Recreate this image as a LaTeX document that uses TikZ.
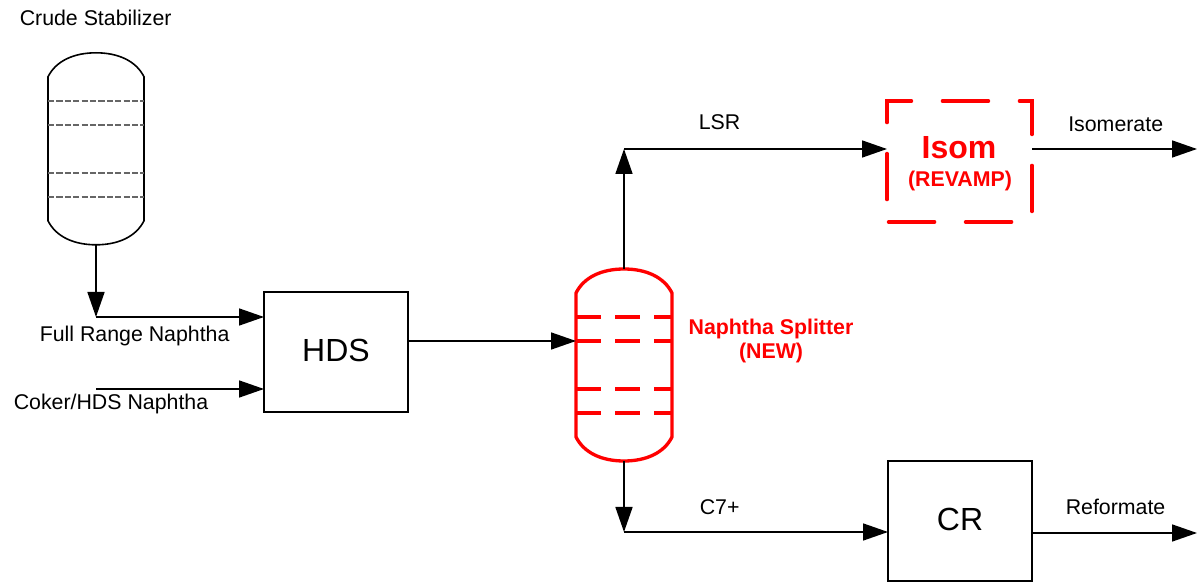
\documentclass[tikz,border=0pt]{standalone}
\usepackage{fontspec}
\setmainfont{Liberation Sans}
\usetikzlibrary{positioning,arrows.meta,calc}
\definecolor{newred}{HTML}{FF0000}
\tikzset{
  boxunit/.style={draw,line width=1.2pt,outer sep=0pt,inner sep=0pt,minimum width=108pt,minimum height=90pt,align=center,text depth=3pt,font=\fontsize{24}{28}\selectfont},
  revamp/.style={draw=newred,line width=2.5pt,line cap=round,outer sep=0pt,inner sep=0pt,minimum width=108.75pt,minimum height=90.75pt,dash pattern=on 34.6pt off 23.15pt,dash phase=56.65pt},
  vessel/.style={outer sep=0pt,inner sep=0pt,minimum width=72pt,minimum height=144pt},
  lbl/.style={inner sep=0pt,anchor=base west,font=\fontsize{16}{18}\selectfont},
  redlbl/.style={inner sep=0pt,anchor=base,align=center,text=newred,font=\fontsize{16}{18}\selectfont\bfseries},
  arr/.style={-{Triangle[length=18.75pt,width=12.75pt]},line width=1.2pt},
  pipe/.style={line width=1.2pt},
  tray/.style={line width=1.3pt,black!60,dash pattern=on 4.6pt off 1.7pt},
  redtray/.style={line width=2.5pt,newred,dash pattern=on 18.75pt off 10.5pt},
}
% outline of a column with four trays
\newcommand{\drawcolumn}[3]{
  \draw[#2] ($(#1.north west)+(0,24)$) .. controls ($(#1.north west)+(8,8)$) and ($(#1.north)+(-22,0)$) .. (#1.north)
    .. controls ($(#1.north)+(22,0)$) and ($(#1.north east)+(-8,8)$) .. ($(#1.north east)+(0,24)$)
    -- ($(#1.south east)+(0,-24)$) .. controls ($(#1.south east)+(-8,-8)$) and ($(#1.south)+(22,0)$) .. (#1.south)
    .. controls ($(#1.south)+(-22,0)$) and ($(#1.south west)+(8,-8)$) .. ($(#1.south west)+(0,-24)$) -- cycle;
  \foreach \tr in {48,72,120,144}
    \draw[#3] ($(#1.north west)+(0,\tr)$) -- ++(96,0);
}
\begin{document}
\begin{tikzpicture}[x=.75pt,y=-.75pt]
\useasboundingbox (0,0) rectangle (1197,584);
% units
\node[vessel] (stabilizer) at (96,148.8) {};
\node[vessel] (splitter) at (624,365) {};
\node[boxunit] (hds) at (336,352) {HDS};
\node[boxunit] (cr) at (960,521) {CR};
\node[revamp] (isom) at (959.5,161.5) {};
\drawcolumn{stabilizer}{pipe}{tray}
\drawcolumn{splitter}{newred,line width=2.5pt}{redtray}
% free ends
\coordinate (fullrange) at (96,317);
\coordinate (coker) at (96,389);
\coordinate (lsr) at (624,149);
\coordinate (cseven) at (624,532);
\coordinate (isomerate) at (1197,149);
\coordinate (reformate) at (1197,533);
% streams
\draw[arr] (stabilizer.south) -- (fullrange);
\draw[arr] (fullrange) -- (hds.west |- fullrange);
\draw[arr] (coker) -- (hds.west |- coker);
\draw[arr] (hds.east |- 0,341) -- (splitter.west |- 0,341);
\draw[arr] (splitter.north) -- (lsr);
\draw[arr] (lsr) -- (isom.west |- lsr);
\draw[arr] (isom.east |- isomerate) -- (isomerate);
\draw[arr] (splitter.south) -- (cseven);
\draw[arr] (cseven) -- (cr.west |- cseven);
\draw[arr] (cr.east |- reformate) -- (reformate);
% labels
\node[lbl] (stabilizerlbl) at (19.5,26) {Crude Stabilizer};
\node[lbl] (fullrangelbl) at (39.5,341.5) {Full Range Naphtha};
\node[lbl] (cokerlbl) at (13.5,410) {Coker/HDS Naphtha};
\node[lbl] (lsrlbl) at (698.5,130) {LSR};
\node[lbl] (isomeratelbl) at (1068,131.5) {Isomerate};
\node[lbl] (csevenlbl) at (699.5,515) {C7+};
\node[lbl] (reformatelbl) at (1065.5,515) {Reformate};
\node[redlbl] (splitterlbl) at (771,335) {Naphtha Splitter};
\node[redlbl] (newlbl) at (771,359) {(NEW)};
\node[redlbl,font=\fontsize{24}{28}\selectfont\bfseries] (isomlbl) at (959,159) {Isom};
\node[redlbl] (revamplbl) at (960,187) {(REVAMP)};
\end{tikzpicture}
\end{document}
